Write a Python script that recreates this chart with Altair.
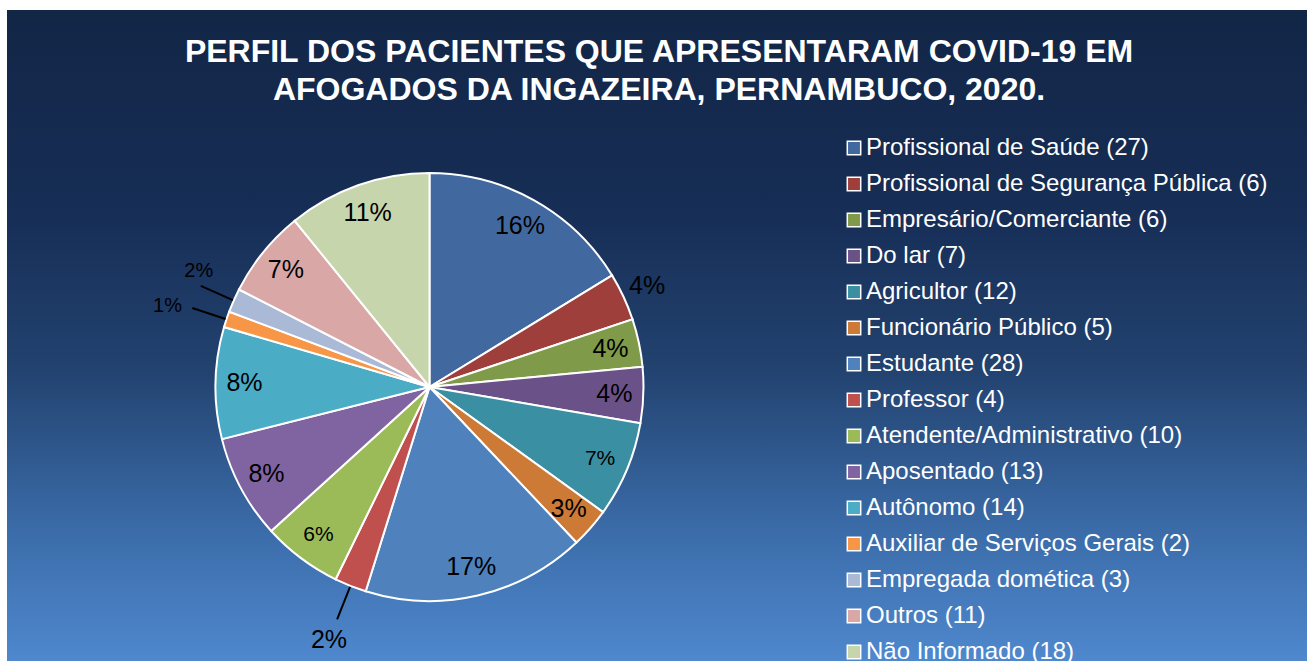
import altair as alt
import pandas as pd

categories = [
    "Profissional de Saúde", "Profissional de Segurança Pública", "Empresário/Comerciante",
    "Do lar", "Agricultor", "Funcionário Público", "Estudante", "Professor",
    "Atendente/Administrativo", "Aposentado", "Autônomo", "Auxiliar de Serviços Gerais",
    "Empregada domética", "Outros", "Não Informado",
]
counts = [27, 6, 6, 7, 12, 5, 28, 4, 10, 13, 14, 2, 3, 11, 18]
colors = [
    "#4169A0", "#9E3F3C", "#7F9A48", "#6A5289", "#3A8FA3", "#CC7A35", "#4F81BD",
    "#C0504D", "#9BBB59", "#8064A2", "#4BACC6", "#F79646", "#A9B9D6", "#D9A7A6", "#C6D5AC",
]
title_lines = [
    "PERFIL DOS PACIENTES QUE APRESENTARAM COVID-19 EM",
    "AFOGADOS DA INGAZEIRA, PERNAMBUCO, 2020.",
]

legend_labels = [f"{c} ({n})" for c, n in zip(categories, counts)]
df = pd.DataFrame({
    "idx": list(range(len(categories))),
    "category": categories,
    "count": counts,
    "legend_label": legend_labels,
})

CX, CY, R = 429.5, 387, 214
FONT = "Liberation Sans"

base = alt.Chart(df).transform_joinaggregate(total="sum(count)").transform_calculate(
    pct_label="round(datum.count / datum.total * 100) + '%'"
)

bg = alt.Chart(alt.Data(values=[{}])).mark_rect(
    fill=alt.LinearGradient(
        gradient="linear",
        stops=[
            alt.GradientStop(color="#122646", offset=0),
            alt.GradientStop(color="#162d55", offset=0.3),
            alt.GradientStop(color="#22426f", offset=0.55),
            alt.GradientStop(color="#3b6ca9", offset=0.8),
            alt.GradientStop(color="#4f88ce", offset=1),
        ],
        x1=0, x2=0, y1=0, y2=1,
    )
).encode(x=alt.value(7), x2=alt.value(1307), y=alt.value(10), y2=alt.value(661))

theta = alt.Theta("count:Q", stack=True)
order = alt.Order("idx:Q")

pie = base.mark_arc(outerRadius=R, stroke="white", strokeWidth=2).encode(
    theta=theta,
    order=order,
    x=alt.value(CX),
    y=alt.value(CY),
    color=alt.Color(
        "legend_label:N",
        scale=alt.Scale(domain=legend_labels, range=colors),
        legend=alt.Legend(
            title=None, orient="none", legendX=842, legendY=136,
            symbolType="square", symbolSize=180, symbolStrokeColor="white",
            symbolStrokeWidth=1.5, symbolOpacity=1, labelColor="white",
            labelFontSize=24, labelFont=FONT, labelLimit=600, rowPadding=12,
            labelOffset=0, padding=0,
        ),
    ),
)

small_inside = "datum.category == 'Agricultor' || datum.category == 'Atendente/Administrativo'"


def label_layer(radius, test, size_expr=None, dx=0, dy=0, fixed_size=None):
    kw = dict(radius=radius, font=FONT, color="black", baseline="middle", align="center", dx=dx, dy=dy)
    if fixed_size is not None:
        kw["fontSize"] = fixed_size
    enc = dict(
        theta=theta,
        order=order,
        x=alt.value(CX),
        y=alt.value(CY),
        text=alt.condition(test, alt.Text("pct_label:N"), alt.value("")),
    )
    if size_expr is not None:
        enc["size"] = size_expr
    return base.mark_text(**kw).encode(**enc)


inner_text = label_layer(
    185,
    "datum.count > 4 && datum.category != 'Profissional de Segurança Pública'",
    size_expr=alt.condition(small_inside, alt.value(21), alt.value(25)),
)
edge_text = label_layer(240, "datum.category == 'Profissional de Segurança Pública'", fixed_size=25)
prof_text = label_layer(272, "datum.category == 'Professor'", fixed_size=25)
emp_text = label_layer(272, "datum.category == 'Empregada domética'", fixed_size=20, dx=18, dy=-6)
aux_text = label_layer(272, "datum.category == 'Auxiliar de Serviços Gerais'", fixed_size=20, dx=-4, dy=5)

leaders = base.transform_window(
    cum="sum(count)", sort=[alt.SortField("idx")], frame=[None, 0]
).transform_calculate(
    mid="(datum.cum - datum.count / 2) / datum.total * 2 * PI"
).transform_calculate(
    lx1=f"{CX} + {R + 1} * sin(datum.mid)",
    ly1=f"{CY} - {R + 1} * cos(datum.mid)",
    lx2=f"{CX} + {R + 36} * sin(datum.mid)",
    ly2=f"{CY} - {R + 36} * cos(datum.mid)",
).transform_filter("datum.count <= 4").mark_rule(color="black", strokeWidth=2).encode(
    x=alt.X("lx1:Q", scale=None, axis=None),
    y=alt.Y("ly1:Q", scale=None, axis=None),
    x2="lx2:Q",
    y2="ly2:Q",
)

one = alt.Data(values=[{}])
title1 = alt.Chart(one).mark_text(
    text=title_lines[0], font=FONT, fontSize=32, fontWeight="bold", color="white",
    align="center", baseline="alphabetic",
).encode(x=alt.value(659), y=alt.value(62))
title2 = alt.Chart(one).mark_text(
    text=title_lines[1], font=FONT, fontSize=32, fontWeight="bold", color="white",
    align="center", baseline="alphabetic",
).encode(x=alt.value(659), y=alt.value(100))

chart = alt.layer(
    bg, pie, inner_text, edge_text, prof_text, emp_text, aux_text, leaders, title1, title2
).properties(
    width=1307, height=661, autosize=alt.AutoSizeParams(type="none"), padding=0,
    background="white",
).configure_view(stroke=None)

chart.save("out.html", embed_options={"renderer": "svg", "actions": False})
